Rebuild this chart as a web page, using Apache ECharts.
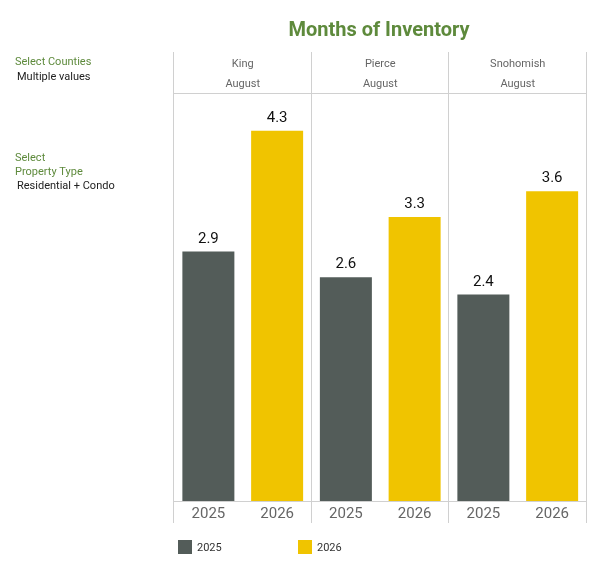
<!DOCTYPE html>
<html>
<head>
<meta charset="UTF-8">
<script src="https://cdn.jsdelivr.net/npm/echarts@6/dist/echarts.min.js"></script>
<style>
  body { margin: 0; background: #fff; }
  #chart { width: 599px; height: 572px; }
</style>
</head>
<body>
<div id="chart"></div>
<script>
// 数据
const counties = ['King', 'Pierce', 'Snohomish']
const months = ['August', 'August', 'August']
const years = ['2025', '2026']
const values2025 = [2.9, 2.6, 2.4]
const values2026 = [4.3, 3.3, 3.6]

const COLORS = ['#535c59', '#f0c400']
const GREEN = '#5e8a3c'
const LINE = '#d0d0d0'

const left0 = 174
const panelW = 137.5
const plotTop = 93
const plotBottom = 501

const grids = [], xAxes = [], yAxes = [], series = []
const graphic = []

counties.forEach((c, i) => {
  grids.push({ left: left0 + i * panelW, width: panelW, top: plotTop, height: plotBottom - plotTop })
  xAxes.push({
    type: 'category', gridIndex: i, data: years,
    axisLine: { lineStyle: { color: LINE } },
    axisTick: { show: false },
    axisLabel: { color: '#666', fontSize: 15, fontFamily: 'Roboto', margin: 6 }
  })
  yAxes.push({ type: 'value', gridIndex: i, min: 0, max: 4.74, show: false })
  series.push({
    type: 'bar', xAxisIndex: i, yAxisIndex: i, barWidth: 52,
    data: [
      { value: values2025[i], itemStyle: { color: COLORS[0] } },
      { value: values2026[i], itemStyle: { color: COLORS[1] } }
    ],
    label: { show: true, position: 'top', color: '#111', fontSize: 15, fontFamily: 'Roboto', distance: 5 }
  })
  const cx = left0 + i * panelW + panelW / 2
  graphic.push({ type: 'text', x: cx, y: 64, style: { text: c, align: 'center', verticalAlign: 'middle', fill: '#666', font: '11px Roboto' } })
  graphic.push({ type: 'text', x: cx, y: 84, style: { text: months[i], align: 'center', verticalAlign: 'middle', fill: '#666', font: '11px Roboto' } })
})

// 分隔线
for (let i = 0; i <= 3; i++) {
  const x = Math.round(left0 + i * panelW) - 0.5
  graphic.push({ type: 'line', shape: { x1: x, y1: 52, x2: x, y2: 523 }, style: { stroke: LINE, lineWidth: 1 } })
}
graphic.push({ type: 'line', shape: { x1: left0, y1: 93.5, x2: left0 + 3 * panelW, y2: 93.5 }, style: { stroke: LINE, lineWidth: 1 } })

// 标题
graphic.push({ type: 'text', x: 379, y: 31, style: { text: 'Months of Inventory', align: 'center', verticalAlign: 'middle', fill: GREEN, font: 'bold 20px Roboto' } })

// 左侧筛选
const sideTexts = [
  ['Select Counties', 15, 62, GREEN], ['Multiple values', 17, 77, '#222'],
  ['Select', 15, 158, GREEN], ['Property Type', 15, 172, GREEN], ['Residential + Condo', 17, 186, '#222']
]
sideTexts.forEach(([t, x, y, col]) => {
  graphic.push({ type: 'text', x: x, y: y, style: { text: t, verticalAlign: 'middle', fill: col, font: '11px Roboto' } })
})

// 图例
years.forEach((y, i) => {
  const x = 178 + i * 120
  graphic.push({ type: 'rect', shape: { x: x, y: 540, width: 14, height: 14 }, style: { fill: COLORS[i] } })
  graphic.push({ type: 'text', x: x + 19, y: 548, style: { text: y, verticalAlign: 'middle', fill: '#333', font: '11px Roboto' } })
})

const chart = echarts.init(document.getElementById('chart'))
chart.setOption({
  animation: false,
  grid: grids,
  xAxis: xAxes,
  yAxis: yAxes,
  series: series,
  graphic: graphic
})
</script>
</body>
</html>
